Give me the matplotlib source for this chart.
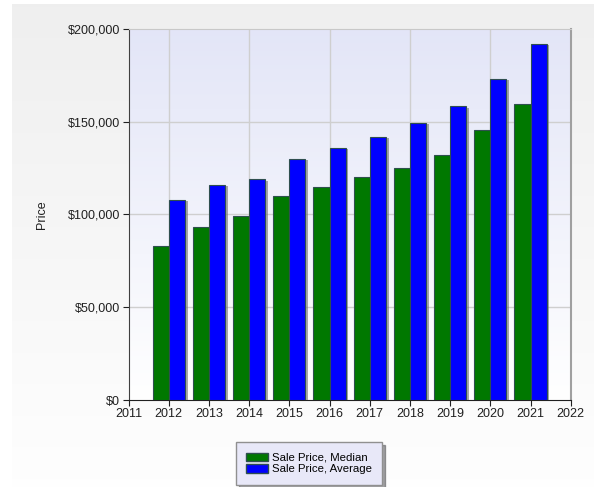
import numpy as np
import matplotlib
matplotlib.use("Agg")
import matplotlib.pyplot as plt
import matplotlib.patheffects as pe
from matplotlib.patches import Patch
from matplotlib.ticker import FuncFormatter, MultipleLocator

# data
years = [2012, 2013, 2014, 2015, 2016, 2017, 2018, 2019, 2020, 2021]
median_price = [83000, 93000, 99000, 110000, 115000, 120000, 125000, 132000, 145700, 159500]
average_price = [108000, 116000, 119000, 130000, 136000, 142000, 149500, 158300, 173000, 192000]

plt.rcParams['font.family'] = ['Liberation Sans', 'DejaVu Sans']
plt.rcParams['font.size'] = 9

fig = plt.figure(figsize=(5.94, 4.87), dpi=100)
fig.patch.set_facecolor('white')

# light gray gradient panel behind everything
bg = fig.add_axes([0, 0, 1, 1], zorder=-10)
grad = np.linspace(0, 1, 256).reshape(-1, 1)
bg.imshow(np.dstack([0.937 + 0.06 * grad] * 3), extent=[12, 594, 487, 4],
          aspect='auto', interpolation='bilinear')
bg.set_xlim(0, 594)
bg.set_ylim(487, 0)
bg.axis('off')

ax = fig.add_axes([128.5 / 594, 87 / 487, 442.2 / 594, 371 / 487])

# plot area gradient lavender -> white
top = np.array([0.89, 0.90, 0.97])
bot = np.array([1.0, 1.0, 1.0])
g = np.linspace(0, 1, 256).reshape(-1, 1, 1)
ax.imshow(top * (1 - g) + bot * g, extent=[2011, 2022, 0, 200000],
          aspect='auto', interpolation='bilinear', zorder=0)

x = np.array(years)
w = 0.4
shadow = [pe.SimplePatchShadow(offset=(2, -1), shadow_rgbFace='#707070', alpha=0.6), pe.Normal()]
b1 = ax.bar(x - w / 2, median_price, width=w, color='#007800', edgecolor='#2f4f4f',
            linewidth=0.8, zorder=3, label='Sale Price, Median')
b2 = ax.bar(x + w / 2, average_price, width=w, color='#0000ff', edgecolor='#2f4f4f',
            linewidth=0.8, zorder=3, label='Sale Price, Average')
for b in list(b1) + list(b2):
    b.set_path_effects(shadow)

ax.set_xlim(2011, 2022)
ax.set_ylim(0, 200000)
ax.set_xticks(range(2011, 2023))
ax.yaxis.set_major_locator(MultipleLocator(50000))
ax.yaxis.set_major_formatter(FuncFormatter(lambda v, p: '${:,.0f}'.format(v)))

for yr in range(2012, 2022, 2):
    ax.axvline(yr, color='#cfcfcf', linewidth=1, zorder=1)
for v in [50000, 100000, 150000]:
    ax.axhline(v, color='#cfcfcf', linewidth=1, zorder=1)

ax.spines['top'].set_color('#c8c8c8')
ax.spines['right'].set_color('#a0a0a0')
ax.spines['right'].set_linewidth(1.5)
ax.spines['left'].set_color('#404040')
ax.spines['bottom'].set_color('#202020')
ax.tick_params(colors='#202020', labelsize=9, length=4, width=0.8, pad=2)

ax.set_ylabel('Price', fontsize=9, labelpad=14, color='#202020')

leg = fig.legend(handles=[Patch(facecolor='#007800', edgecolor='#2f4f4f', label='Sale Price, Median'),
                          Patch(facecolor='#0000ff', edgecolor='#2f4f4f', label='Sale Price, Average')],
                 loc='center', bbox_to_anchor=(309 / 594, 1 - 463.5 / 487),
                 fancybox=False, shadow=True, framealpha=1, fontsize=8.2,
                 handlelength=1.9, handleheight=0.75, handletextpad=0.3,
                 labelspacing=0.15, borderpad=0.9, borderaxespad=0)
leg.get_frame().set_facecolor('#e8e8f8')
leg.get_frame().set_edgecolor('#909090')

fig.savefig('out.png', dpi=100)
